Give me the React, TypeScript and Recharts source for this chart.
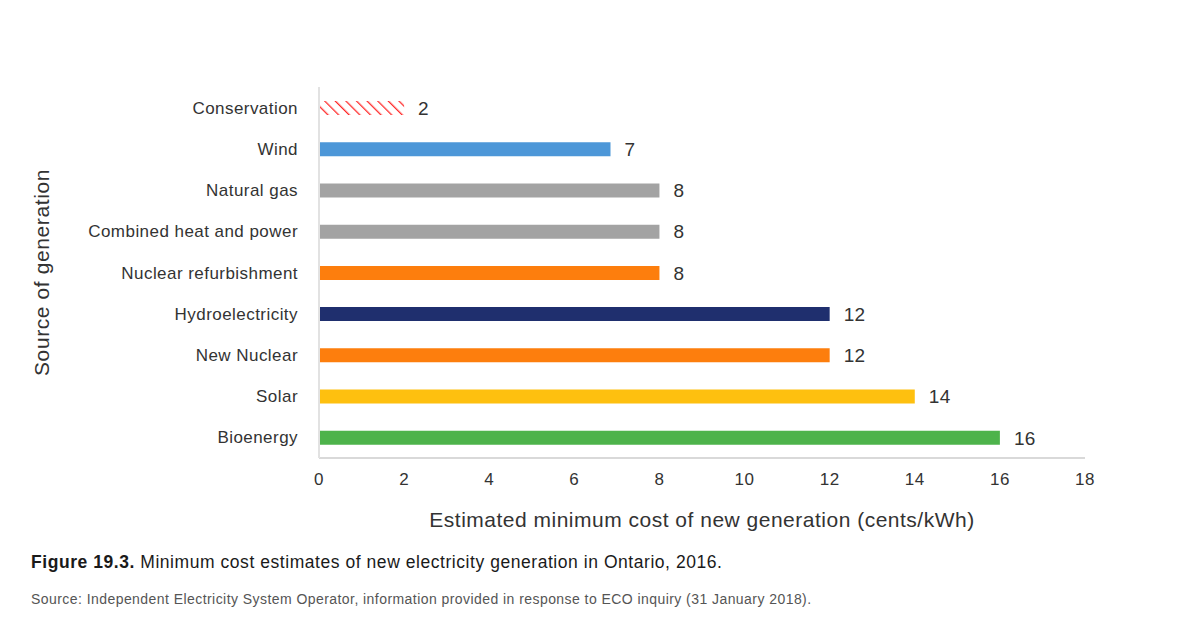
import { BarChart, Bar, XAxis, YAxis, Cell, LabelList, Label } from 'recharts';

const sources = [
  'Conservation',
  'Wind',
  'Natural gas',
  'Combined heat and power',
  'Nuclear refurbishment',
  'Hydroelectricity',
  'New Nuclear',
  'Solar',
  'Bioenergy',
];
const costs = [2, 6.85, 8, 8, 8, 12, 12, 14, 16];
const costLabels = ['2', '7', '8', '8', '8', '12', '12', '14', '16'];
const xTicks = [0, 2, 4, 6, 8, 10, 12, 14, 16, 18];

const barColors = [
  'url(#hatchRed)',
  '#4d97d8',
  '#a3a3a3',
  '#a3a3a3',
  '#fd7e0d',
  '#1f2f6e',
  '#fd7e0d',
  '#fec00f',
  '#4db34b',
];

const data = sources.map((name, i) => ({ name, cost: costs[i], label: costLabels[i] }));

const font = '"Liberation Sans", Arial, Helvetica, sans-serif';

export default function App() {
  return (
    <div
      style={{
        position: 'absolute',
        left: 0,
        top: 0,
        width: 1200,
        height: 633,
        background: '#fff',
        fontFamily: font,
      }}
    >
      <BarChart
        width={1200}
        height={533}
        data={data}
        layout="vertical"
        margin={{ top: 87, right: 115, bottom: 0, left: 20 }}
        barSize={14}
      >
        <defs>
          <pattern
            id="hatchRed"
            patternUnits="userSpaceOnUse"
            width={7.5}
            height={7.5}
            patternTransform="rotate(-45)"
          >
            <line x1={0} y1={0} x2={0} y2={7.5} stroke="#ff2a2a" strokeWidth={2.6} />
          </pattern>
        </defs>
        <XAxis
          type="number"
          domain={[0, 18]}
          ticks={xTicks}
          interval={0}
          height={75}
          tickLine={false}
          tickSize={0}
          tickMargin={15}
          axisLine={{ stroke: '#d9d9d9', strokeWidth: 2 }}
          tick={{ fill: '#333', fontSize: 17, fontFamily: font, letterSpacing: 0.5 }}
        >
          <Label
            value="Estimated minimum cost of new generation (cents/kWh)"
            position="insideBottom"
            offset={6}
            style={{ fill: '#333', fontSize: 21, fontFamily: font, letterSpacing: 0.5 }}
          />
        </XAxis>
        <YAxis
          type="category"
          dataKey="name"
          width={299}
          tickLine={false}
          tickSize={0}
          tickMargin={21}
          axisLine={{ stroke: '#e2e2e2', strokeWidth: 2 }}
          tick={{ fill: '#333', fontSize: 17, fontFamily: font, letterSpacing: 0.45 }}
        >
          <Label
            value="Source of generation"
            angle={-90}
            position="insideLeft"
            offset={22}
            style={{
              fill: '#333',
              fontSize: 21,
              fontFamily: font,
              letterSpacing: 0.6,
              textAnchor: 'middle',
            }}
          />
        </YAxis>
        <Bar dataKey="cost" isAnimationActive={false}>
          {data.map((d, i) => (
            <Cell key={d.name} fill={barColors[i]} />
          ))}
          <LabelList
            dataKey="label"
            position="right"
            offset={14}
            style={{ fill: '#333', fontSize: 19, fontFamily: font, letterSpacing: 0.4 }}
          />
        </Bar>
      </BarChart>
      <div
        style={{
          position: 'absolute',
          left: 31,
          top: 552,
          fontSize: 17.5,
          letterSpacing: 0.55,
          color: '#1a1a1a',
          whiteSpace: 'nowrap',
        }}
      >
        <b>Figure 19.3.</b> Minimum cost estimates of new electricity generation in Ontario, 2016.
      </div>
      <div
        style={{
          position: 'absolute',
          left: 31,
          top: 591,
          fontSize: 14,
          letterSpacing: 0.44,
          color: '#555',
          whiteSpace: 'nowrap',
        }}
      >
        Source: Independent Electricity System Operator, information provided in response to ECO inquiry (31 January 2018).
      </div>
    </div>
  );
}
